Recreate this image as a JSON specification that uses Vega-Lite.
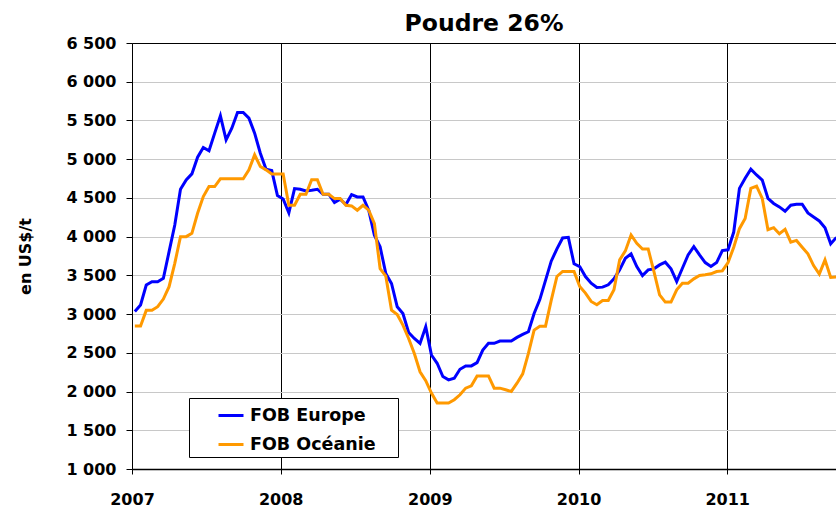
{
  "$schema": "https://vega.github.io/schema/vega-lite/v6.json",
  "width": 704,
  "height": 426,
  "autosize": {"type": "none"},
  "padding": {"left": 132, "top": 43, "right": 0, "bottom": 40},
  "background": "white",
  "config": {"font": "DejaVu Sans", "view": {"stroke": null}},
  "title": {"text": "Poudre 26%", "font": "DejaVu Sans", "fontSize": 23.5, "fontWeight": "bold", "color": "black", "anchor": "middle", "frame": "group", "baseline": "alphabetic", "offset": 11, "dy": 30},
  "data": {"values": [
    {"d": "2007-01-08", "eu": 3035, "oc": 2845},
    {"d": "2007-01-22", "eu": 3117, "oc": 2845},
    {"d": "2007-02-05", "eu": 3375, "oc": 3048},
    {"d": "2007-02-19", "eu": 3418, "oc": 3048},
    {"d": "2007-03-05", "eu": 3418, "oc": 3095},
    {"d": "2007-03-19", "eu": 3461, "oc": 3194},
    {"d": "2007-04-02", "eu": 3806, "oc": 3354},
    {"d": "2007-04-16", "eu": 4150, "oc": 3655},
    {"d": "2007-04-30", "eu": 4612, "oc": 4000},
    {"d": "2007-05-14", "eu": 4733, "oc": 4000},
    {"d": "2007-05-28", "eu": 4810, "oc": 4043},
    {"d": "2007-06-11", "eu": 5026, "oc": 4302},
    {"d": "2007-06-25", "eu": 5151, "oc": 4517},
    {"d": "2007-07-09", "eu": 5108, "oc": 4647},
    {"d": "2007-07-23", "eu": 5336, "oc": 4647},
    {"d": "2007-08-06", "eu": 5560, "oc": 4746},
    {"d": "2007-08-20", "eu": 5250, "oc": 4746},
    {"d": "2007-09-03", "eu": 5400, "oc": 4746},
    {"d": "2007-09-17", "eu": 5603, "oc": 4746},
    {"d": "2007-10-01", "eu": 5603, "oc": 4746},
    {"d": "2007-10-15", "eu": 5530, "oc": 4862},
    {"d": "2007-10-29", "eu": 5336, "oc": 5056},
    {"d": "2007-11-12", "eu": 5077, "oc": 4905},
    {"d": "2007-11-26", "eu": 4870, "oc": 4862},
    {"d": "2007-12-10", "eu": 4853, "oc": 4810},
    {"d": "2007-12-24", "eu": 4530, "oc": 4810},
    {"d": "2008-01-07", "eu": 4487, "oc": 4810},
    {"d": "2008-01-21", "eu": 4306, "oc": 4405},
    {"d": "2008-02-04", "eu": 4620, "oc": 4405},
    {"d": "2008-02-18", "eu": 4612, "oc": 4547},
    {"d": "2008-03-03", "eu": 4590, "oc": 4547},
    {"d": "2008-03-17", "eu": 4600, "oc": 4736},
    {"d": "2008-03-31", "eu": 4612, "oc": 4736},
    {"d": "2008-04-14", "eu": 4547, "oc": 4547},
    {"d": "2008-04-28", "eu": 4547, "oc": 4547},
    {"d": "2008-05-12", "eu": 4440, "oc": 4491},
    {"d": "2008-05-26", "eu": 4483, "oc": 4491},
    {"d": "2008-06-09", "eu": 4414, "oc": 4405},
    {"d": "2008-06-23", "eu": 4543, "oc": 4397},
    {"d": "2008-07-07", "eu": 4513, "oc": 4341},
    {"d": "2008-07-21", "eu": 4513, "oc": 4405},
    {"d": "2008-08-04", "eu": 4341, "oc": 4341},
    {"d": "2008-08-18", "eu": 4018, "oc": 4169},
    {"d": "2008-09-01", "eu": 3868, "oc": 3588},
    {"d": "2008-09-15", "eu": 3524, "oc": 3490},
    {"d": "2008-09-29", "eu": 3395, "oc": 3051},
    {"d": "2008-10-13", "eu": 3094, "oc": 2995},
    {"d": "2008-10-27", "eu": 3008, "oc": 2857},
    {"d": "2008-11-10", "eu": 2763, "oc": 2685},
    {"d": "2008-11-24", "eu": 2685, "oc": 2492},
    {"d": "2008-12-08", "eu": 2621, "oc": 2255},
    {"d": "2008-12-22", "eu": 2836, "oc": 2140},
    {"d": "2009-01-05", "eu": 2472, "oc": 1980},
    {"d": "2009-01-19", "eu": 2365, "oc": 1851},
    {"d": "2009-02-02", "eu": 2194, "oc": 1851},
    {"d": "2009-02-16", "eu": 2151, "oc": 1851},
    {"d": "2009-03-02", "eu": 2172, "oc": 1894},
    {"d": "2009-03-16", "eu": 2288, "oc": 1958},
    {"d": "2009-03-30", "eu": 2331, "oc": 2044},
    {"d": "2009-04-13", "eu": 2331, "oc": 2074},
    {"d": "2009-04-27", "eu": 2374, "oc": 2202},
    {"d": "2009-05-11", "eu": 2536, "oc": 2202},
    {"d": "2009-05-25", "eu": 2622, "oc": 2202},
    {"d": "2009-06-08", "eu": 2622, "oc": 2044},
    {"d": "2009-06-22", "eu": 2652, "oc": 2044},
    {"d": "2009-07-06", "eu": 2652, "oc": 2023},
    {"d": "2009-07-20", "eu": 2652, "oc": 2001},
    {"d": "2009-08-03", "eu": 2699, "oc": 2108},
    {"d": "2009-08-17", "eu": 2737, "oc": 2228},
    {"d": "2009-08-31", "eu": 2772, "oc": 2493},
    {"d": "2009-09-14", "eu": 3007, "oc": 2793},
    {"d": "2009-09-28", "eu": 3187, "oc": 2844},
    {"d": "2009-10-12", "eu": 3435, "oc": 2844},
    {"d": "2009-10-26", "eu": 3683, "oc": 3178},
    {"d": "2009-11-09", "eu": 3842, "oc": 3486},
    {"d": "2009-11-23", "eu": 3983, "oc": 3551},
    {"d": "2009-12-07", "eu": 3991, "oc": 3551},
    {"d": "2009-12-21", "eu": 3649, "oc": 3551},
    {"d": "2010-01-04", "eu": 3614, "oc": 3357},
    {"d": "2010-01-18", "eu": 3485, "oc": 3271},
    {"d": "2010-02-01", "eu": 3399, "oc": 3163},
    {"d": "2010-02-15", "eu": 3344, "oc": 3120},
    {"d": "2010-03-01", "eu": 3348, "oc": 3176},
    {"d": "2010-03-15", "eu": 3378, "oc": 3176},
    {"d": "2010-03-29", "eu": 3455, "oc": 3314},
    {"d": "2010-04-12", "eu": 3571, "oc": 3700},
    {"d": "2010-04-26", "eu": 3721, "oc": 3816},
    {"d": "2010-05-10", "eu": 3777, "oc": 4021},
    {"d": "2010-05-24", "eu": 3614, "oc": 3914},
    {"d": "2010-06-07", "eu": 3498, "oc": 3841},
    {"d": "2010-06-21", "eu": 3571, "oc": 3841},
    {"d": "2010-07-05", "eu": 3584, "oc": 3550},
    {"d": "2010-07-19", "eu": 3635, "oc": 3249},
    {"d": "2010-08-02", "eu": 3670, "oc": 3155},
    {"d": "2010-08-16", "eu": 3584, "oc": 3155},
    {"d": "2010-08-30", "eu": 3421, "oc": 3314},
    {"d": "2010-09-13", "eu": 3592, "oc": 3399},
    {"d": "2010-09-27", "eu": 3764, "oc": 3399},
    {"d": "2010-10-11", "eu": 3871, "oc": 3455},
    {"d": "2010-10-25", "eu": 3764, "oc": 3498},
    {"d": "2010-11-08", "eu": 3665, "oc": 3507},
    {"d": "2010-11-22", "eu": 3614, "oc": 3520},
    {"d": "2010-12-06", "eu": 3665, "oc": 3550},
    {"d": "2010-12-20", "eu": 3820, "oc": 3558},
    {"d": "2011-01-03", "eu": 3830, "oc": 3665},
    {"d": "2011-01-17", "eu": 4059, "oc": 3864},
    {"d": "2011-01-31", "eu": 4623, "oc": 4103},
    {"d": "2011-02-14", "eu": 4753, "oc": 4233},
    {"d": "2011-02-28", "eu": 4870, "oc": 4623},
    {"d": "2011-03-14", "eu": 4796, "oc": 4653},
    {"d": "2011-03-28", "eu": 4731, "oc": 4493},
    {"d": "2011-04-11", "eu": 4493, "oc": 4090},
    {"d": "2011-04-25", "eu": 4428, "oc": 4116},
    {"d": "2011-05-09", "eu": 4384, "oc": 4038},
    {"d": "2011-05-23", "eu": 4328, "oc": 4094},
    {"d": "2011-06-06", "eu": 4406, "oc": 3929},
    {"d": "2011-06-20", "eu": 4419, "oc": 3951},
    {"d": "2011-07-04", "eu": 4419, "oc": 3864},
    {"d": "2011-07-18", "eu": 4306, "oc": 3778},
    {"d": "2011-08-01", "eu": 4254, "oc": 3626},
    {"d": "2011-08-15", "eu": 4202, "oc": 3517},
    {"d": "2011-08-29", "eu": 4116, "oc": 3700},
    {"d": "2011-09-12", "eu": 3908, "oc": 3474},
    {"d": "2011-09-26", "eu": 3990, "oc": 3480}
  ]},
  "transform": [{"fold": ["eu", "oc"], "as": ["serie", "prix"]}],
  "mark": {"type": "line", "strokeWidth": 3, "clip": true, "strokeJoin": "miter"},
  "encoding": {
    "x": {
      "field": "d", "type": "temporal",
      "scale": {"type": "utc", "domain": [{"year": 2007, "month": 1, "date": 1, "utc": true}, {"year": 2011, "month": 9, "date": 25, "utc": true}]},
      "axis": {
        "title": null,
        "values": [
          {"year": 2007, "month": 1, "date": 1, "utc": true},
          {"year": 2008, "month": 1, "date": 1, "utc": true},
          {"year": 2009, "month": 1, "date": 1, "utc": true},
          {"year": 2010, "month": 1, "date": 1, "utc": true},
          {"year": 2011, "month": 1, "date": 1, "utc": true}
        ],
        "labelExpr": "utcFormat(datum.value, '%Y')",
        "grid": true, "gridColor": "black", "gridWidth": 1, "gridOpacity": 1,
        "domainColor": "black", "domainWidth": 1.5,
        "tickColor": "black", "tickSize": 5, "tickWidth": 1,
        "labelFont": "DejaVu Sans", "labelFontSize": 16, "labelFontWeight": "bold", "labelColor": "black",
        "labelBaseline": "alphabetic", "labelPadding": 30, "labelFlush": false, "labelOverlap": false
      }
    },
    "y": {
      "field": "prix", "type": "quantitative",
      "scale": {"domain": [1000, 6500], "nice": false, "zero": false},
      "axis": {
        "title": "en US$/t",
        "titleFont": "DejaVu Sans", "titleFontSize": 16, "titleFontWeight": "bold", "titleColor": "black",
        "titleAngle": 270, "titleAlign": "center", "titleBaseline": "middle", "titleX": -107, "titleY": 213,
        "values": [1000, 1500, 2000, 2500, 3000, 3500, 4000, 4500, 5000, 5500, 6000, 6500],
        "labelExpr": "replace(format(datum.value, ',d'), ',', ' ')",
        "grid": true,
        "gridColor": {"condition": {"test": "datum.value === 6500", "value": "black"}, "value": "#c8c8c8"},
        "gridWidth": 1, "gridOpacity": 1,
        "domainColor": "black", "domainWidth": 1,
        "tickColor": "black", "tickSize": 6, "tickWidth": 1,
        "labelFont": "DejaVu Sans", "labelFontSize": 16, "labelFontWeight": "bold", "labelColor": "black",
        "labelPadding": 10, "labelOverlap": false
      }
    },
    "color": {
      "field": "serie", "type": "nominal",
      "scale": {"domain": ["eu", "oc"], "range": ["#0000FF", "#FF9900"]},
      "legend": {
        "orient": "none", "legendX": 57, "legendY": 355, "direction": "vertical",
        "title": " ", "titleOrient": "right", "titlePadding": 19, "titleFontSize": 10,
        "labelExpr": "datum.value == 'eu' ? 'FOB Europe' : 'FOB Océanie'",
        "fillColor": "white", "strokeColor": "black",
        "padding": 3.5, "rowPadding": 6,
        "symbolType": "stroke", "symbolSize": 625, "symbolStrokeWidth": 3, "symbolOffset": 24.5,
        "labelFont": "DejaVu Sans", "labelFontSize": 17.5, "labelFontWeight": "bold", "labelColor": "black",
        "labelOffset": 5, "labelLimit": 300
      }
    }
  }
}
